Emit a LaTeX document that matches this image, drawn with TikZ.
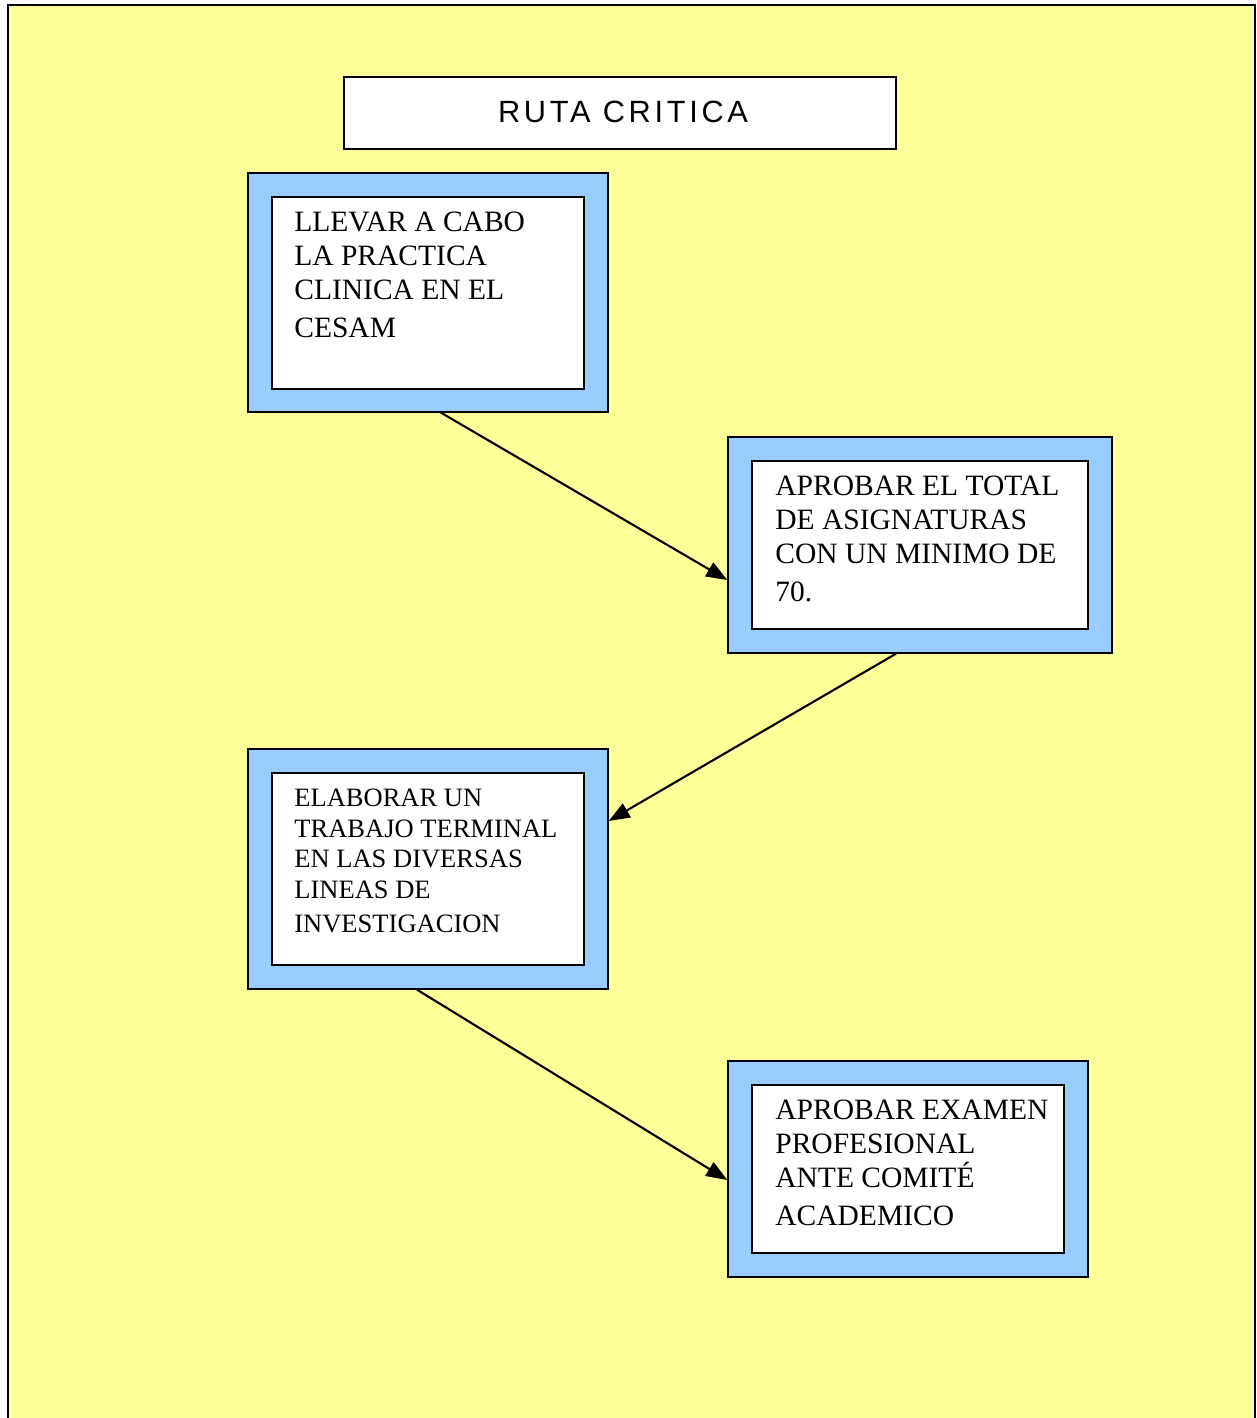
\documentclass[tikz,border=0pt]{standalone}
\usepackage{fontspec}
\setmainfont{Liberation Serif}
\newfontfamily\titulofont[LetterSpace=12]{Liberation Sans}
\usetikzlibrary{arrows.meta}
\definecolor{amarillo}{HTML}{FFFF99}
\definecolor{azul}{HTML}{99CCFF}
\tikzset{
  marco/.style={draw, fill=azul, line width=0.8pt, minimum width=7.2cm, minimum height=4.78cm},
  caja/.style={draw, fill=white, line width=0.8pt, minimum width=6.24cm, minimum height=3.84cm},
  texto/.style={anchor=base west, inner sep=0pt, align=left, font=\fontsize{16.8}{19.3}\selectfont},
  flecha/.style={line width=1.2pt, -{Triangle[length=12pt,width=9pt]}}
}

\begin{document}
\begin{tikzpicture}[x=0.02cm, y=-0.02cm]
				\useasboundingbox (0,0) rectangle (1257,1418);
				\draw[fill=amarillo, line width=0.8pt] (8,5) rectangle (1255,1440);
				% titulo
				\node[draw, fill=white, line width=0.8pt, minimum width=11.04cm, minimum height=1.44cm] (titulo)at(620, 113) {};
				\node[font=\titulofont\fontsize{17.5}{20}\selectfont] (tituloT)at(623, 112) {RUTA CRITICA};
				% pasos (ancla en la linea base de la ultima linea)
				\node[marco] (P1)at(428, 292.5) {};
				\node[caja] (P1c)at(428, 293) {};
				\node[texto] (P1t)at(294, 337) {LLEVAR A CABO\\ LA PRACTICA\\ CLINICA EN EL\\[2.3pt] CESAM};
				\node[marco, minimum width=7.68cm, minimum height=4.32cm] (P2)at(920, 545) {};
				\node[caja, minimum width=6.72cm, minimum height=3.36cm] (P2c)at(920, 545) {};
				\node[texto] (P2t)at(775, 601) {APROBAR EL TOTAL\\ DE ASIGNATURAS\\ CON UN MINIMO DE\\[2.3pt] 70.};
				\node[marco, minimum height=4.8cm] (P3)at(428, 869) {};
				\node[caja] (P3c)at(428, 869) {};
				\node[texto, font=\fontsize{15.1}{17.3}\selectfont] (P3t)at(294, 932) {ELABORAR UN\\ TRABAJO TERMINAL\\ EN LAS DIVERSAS\\ LINEAS DE\\[2pt] INVESTIGACION};
				\node[marco, minimum height=4.32cm] (P4)at(908, 1169) {};
				\node[caja, minimum height=3.36cm] (P4c)at(908, 1169) {};
				\node[texto] (P4t)at(775, 1225) {APROBAR EXAMEN\\ PROFESIONAL\\ ANTE COMITÉ\\[2.3pt] ACADEMICO};
				% conexiones
				\draw[flecha] ([xshift=0.26cm]P1.south) -- ([yshift=-0.7cm]P2.west);
				\draw[flecha] ([xshift=-0.48cm]P2.south) -- ([yshift=0.96cm]P3.east);
				\draw[flecha] ([xshift=-0.22cm]P3.south) -- ([yshift=-0.22cm]P4.west);
			\end{tikzpicture}
\end{document}
